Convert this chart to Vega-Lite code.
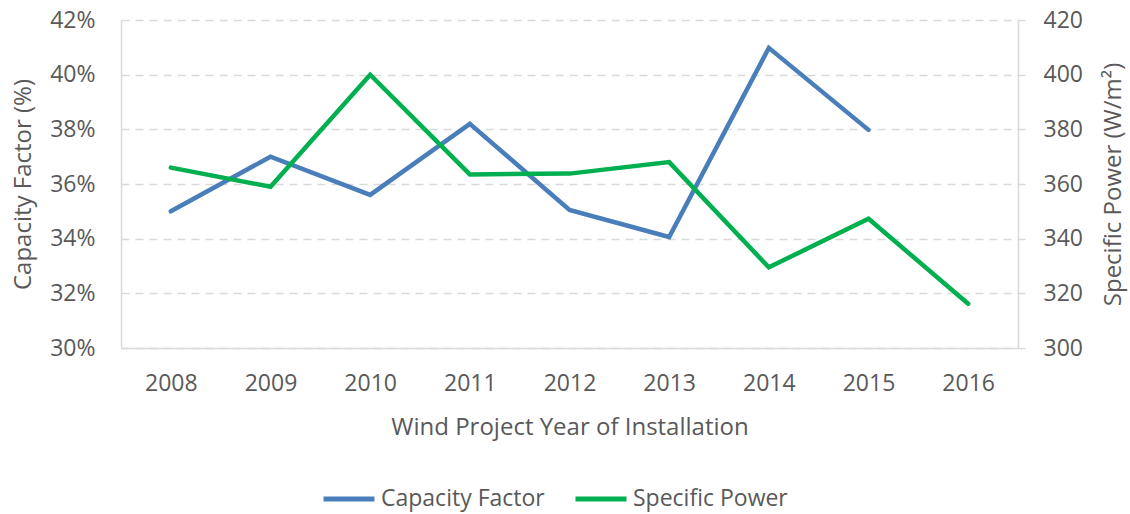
{
  "$schema": "https://vega.github.io/schema/vega-lite/v6.json",
  "width": 897,
  "height": 328,
  "autosize": {"type": "none"},
  "padding": {"left": 121, "top": 20, "right": 112, "bottom": 166},
  "background": "white",
  "config": {
    "font": "Open Sans",
    "view": {"stroke": null},
    "axis": {"labelColor": "#595959", "titleColor": "#595959", "labelFont": "Open Sans", "titleFont": "Open Sans", "labelFontSize": 23, "titleFontSize": 24, "titleFontWeight": "normal", "domainColor": "#d9d9d9", "domainWidth": 1.5, "labelOverlap": false}
  },
  "data": {"values": [
    {"year": "2008", "series": "Capacity Factor", "cf": 0.350, "sp": null},
    {"year": "2009", "series": "Capacity Factor", "cf": 0.370, "sp": null},
    {"year": "2010", "series": "Capacity Factor", "cf": 0.356, "sp": null},
    {"year": "2011", "series": "Capacity Factor", "cf": 0.382, "sp": null},
    {"year": "2012", "series": "Capacity Factor", "cf": 0.3505, "sp": null},
    {"year": "2013", "series": "Capacity Factor", "cf": 0.3406, "sp": null},
    {"year": "2014", "series": "Capacity Factor", "cf": 0.4098, "sp": null},
    {"year": "2015", "series": "Capacity Factor", "cf": 0.3798, "sp": null},
    {"year": "2008", "series": "Specific Power", "cf": null, "sp": 366},
    {"year": "2009", "series": "Specific Power", "cf": null, "sp": 359},
    {"year": "2010", "series": "Specific Power", "cf": null, "sp": 400},
    {"year": "2011", "series": "Specific Power", "cf": null, "sp": 363.5},
    {"year": "2012", "series": "Specific Power", "cf": null, "sp": 363.8},
    {"year": "2013", "series": "Specific Power", "cf": null, "sp": 368},
    {"year": "2014", "series": "Specific Power", "cf": null, "sp": 329.5},
    {"year": "2015", "series": "Specific Power", "cf": null, "sp": 347.3},
    {"year": "2016", "series": "Specific Power", "cf": null, "sp": 316.2}
  ]},
  "encoding": {
    "x": {"field": "year", "type": "ordinal", "scale": {"type": "point", "padding": 0.5, "domain": ["2008","2009","2010","2011","2012","2013","2014","2015","2016"]},
      "axis": {"title": "Wind Project Year of Installation", "labelAngle": 0, "ticks": false, "labelPadding": 24, "titlePadding": 20}},
    "color": {"field": "series", "type": "nominal",
      "scale": {"domain": ["Capacity Factor", "Specific Power"], "range": ["#4a7ebb", "#00b050"]},
      "legend": {"title": null, "orient": "none", "legendX": 200, "legendY": 451, "direction": "horizontal", "symbolType": "stroke", "symbolSize": 2600, "symbolStrokeWidth": 5, "labelFontSize": 23, "labelColor": "#595959", "labelFont": "Open Sans", "labelLimit": 400, "columnPadding": 20, "labelOffset": 4}}
  },
  "layer": [
    {
      "transform": [{"filter": "datum.series === 'Capacity Factor'"}],
      "mark": {"type": "line", "strokeWidth": 4.5, "strokeCap": "round"},
      "encoding": {
        "y": {"field": "cf", "type": "quantitative", "scale": {"domain": [0.30, 0.42], "nice": false, "zero": false},
          "axis": {"title": "Capacity Factor (%)", "format": ".0%", "values": [0.30,0.32,0.34,0.36,0.38,0.40,0.42], "grid": true, "gridDash": [8, 6], "gridColor": "#d9d9d9", "gridWidth": 1.5, "ticks": false, "labelPadding": 26, "titlePadding": 14}}
      }
    },
    {
      "transform": [{"filter": "datum.series === 'Specific Power'"}],
      "mark": {"type": "line", "strokeWidth": 4.5, "strokeCap": "round"},
      "encoding": {
        "y": {"field": "sp", "type": "quantitative", "scale": {"domain": [300, 420], "nice": false, "zero": false},
          "axis": {"title": "Specific Power (W/m²)", "orient": "right", "titleAngle": 270, "titleBaseline": "top", "values": [300,320,340,360,380,400,420], "grid": false, "ticks": true, "tickSize": 7, "tickColor": "#d9d9d9", "tickWidth": 1.5, "labelPadding": 18, "titlePadding": 19}}
      }
    }
  ],
  "resolve": {"scale": {"y": "independent"}}
}
